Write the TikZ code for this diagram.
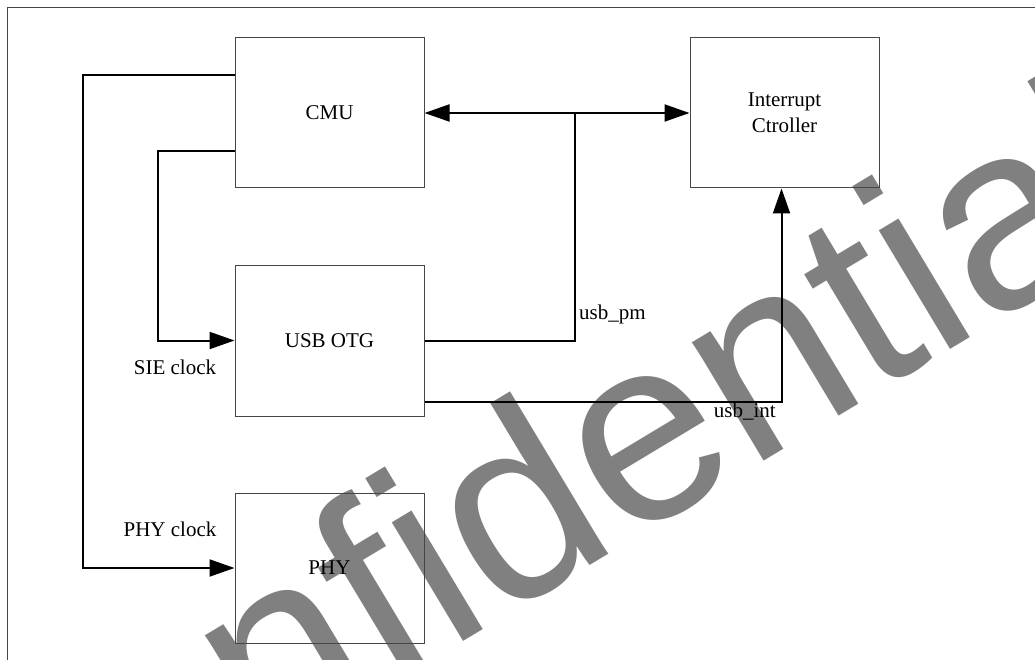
\documentclass[tikz,border=0pt]{standalone}
\usepackage{fontspec}
\setmainfont{Liberation Serif}
\newfontfamily\markfont{Liberation Sans}
\usepackage{xcolor}
\definecolor{ink}{RGB}{0,0,0}
\definecolor{frame}{RGB}{70,70,70}
\definecolor{shade}{RGB}{128,128,128}
\usepackage{tikz}
\usetikzlibrary{arrows.meta,positioning}
\tikzset{
  block/.style={draw=frame, line width=1pt, minimum width=189pt,
                minimum height=150pt, inner sep=0pt, align=center,
                font=\fontsize{21}{26}\selectfont},
  wire/.style={draw=ink, line width=2pt},
  tip/.style={-{Triangle[length=25pt,width=17pt]}},
  both/.style={{Triangle[length=25pt,width=17pt]}-{Triangle[length=25pt,width=17pt]}},
  sig/.style={inner sep=0pt, font=\fontsize{21}{24}\selectfont},
}

\begin{document}
\begin{tikzpicture}[x=1pt,y=-1pt]
\useasboundingbox (0,0) rectangle (1035,660);
\begin{scope}
\clip (0,0) rectangle (1035,660);

% watermark
\node[anchor=base west, rotate=31, inner sep=0pt, text=shade,
      font=\fontsize{262}{262}\markfont]
      (mark) at (-26,936) {Confidential};

\draw[frame, line width=1pt] (7,660) |- (1035,8);

% blocks
\node[block] (cmu) at (329.5,113) {CMU};
\node[block, right=265pt of cmu] (intc) {Interrupt\\Ctroller};
\node[block, below=76pt of cmu, minimum height=151pt] (otg) {USB OTG};
\node[block, below=76pt of otg] (phy) {PHY};

% clocks from the CMU
\draw[wire, tip] ([yshift=-38pt]cmu.north west) -- ++(-152,0) |- (phy.west);
\draw[wire, tip] ([yshift=37pt]cmu.south west) -- ++(-77,0) |- (otg.west);
\node[sig] (sieclk) at (175,367) {SIE clock};
\node[sig] (phyclk) at (170,529) {PHY clock};

% bus and interrupt
\coordinate (pm) at (575,113);
\draw[wire, both] (cmu.east) -- (intc.west);
\draw[wire] (otg.east) -| (pm);
\draw[wire, tip] ([yshift=-61pt]otg.east) -| ([xshift=-3pt]intc.south);
\node[sig, anchor=west] (usbpm) at (579,314) {usb\_pm};
\node[sig, anchor=east] (usbint) at (776,412) {usb\_int};
\end{scope}
\end{tikzpicture}
\end{document}
